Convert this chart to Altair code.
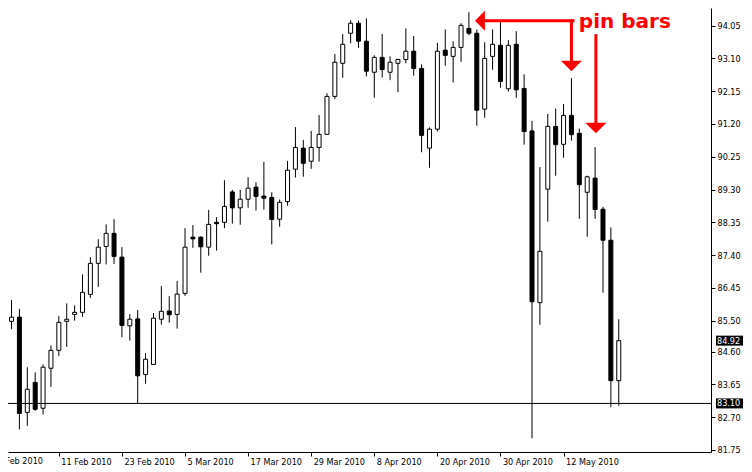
import altair as alt
import pandas as pd

# ---- candle data ----
opens = [85.43, 85.48, 85.60, 82.84, 83.71, 82.96, 84.12, 84.64, 85.48, 85.68,
         85.74, 86.26, 87.16, 87.65, 88.03, 87.34, 85.35, 85.55, 83.94, 84.23,
         85.54, 85.78, 85.68, 86.29, 87.92, 87.92, 87.63, 88.35, 88.35, 89.23,
         88.77, 89.02, 89.37, 89.11, 89.07, 88.44, 88.95, 89.89, 90.50, 90.12,
         90.52, 90.90, 92.00, 92.96, 93.83, 94.12, 93.60, 92.70, 93.13, 92.70,
         92.96, 93.07, 93.31, 92.81, 90.50, 91.05, 93.34, 93.16, 93.42, 93.97,
         93.83, 91.63, 93.16, 93.48, 92.22, 93.51, 92.23, 91.00, 86.02, 89.31,
         91.13, 90.61, 91.45, 90.93, 89.22, 89.63, 88.73, 87.83, 83.76]
highs = [85.95, 86.10, 85.84, 84.15, 84.00, 84.23, 84.78, 85.63, 86.00, 85.94,
         86.84, 87.34, 87.86, 88.29, 88.44, 87.63, 85.69, 85.81, 84.56, 85.72,
         86.50, 86.21, 86.65, 88.18, 88.27, 87.94, 88.71, 88.50, 89.57, 89.29,
         89.29, 89.66, 89.51, 90.10, 89.22, 89.01, 90.13, 91.11, 90.74, 91.00,
         91.46, 92.09, 93.23, 93.81, 94.21, 94.20, 94.26, 93.19, 93.81, 93.16,
         93.09, 93.97, 93.75, 92.93, 91.10, 93.55, 93.94, 93.60, 94.12, 94.44,
         93.94, 93.57, 93.94, 94.18, 93.63, 93.89, 92.64, 91.29, 89.95, 91.49,
         91.65, 91.78, 92.53, 91.07, 89.70, 90.53, 88.80, 88.20, 85.54]
lows = [85.23, 85.25, 82.35, 82.45, 82.89, 82.78, 83.58, 84.48, 84.74, 85.50,
        85.61, 86.16, 86.48, 87.13, 87.14, 85.02, 84.92, 83.10, 83.67, 84.23,
        85.38, 85.44, 85.27, 86.22, 87.61, 86.89, 87.38, 87.53, 88.18, 88.31,
        88.28, 88.77, 88.69, 88.72, 87.71, 88.22, 88.83, 89.65, 89.67, 89.90,
        90.11, 90.88, 91.92, 92.54, 93.54, 93.41, 92.58, 91.96, 92.55, 92.47,
        92.12, 92.96, 92.60, 90.38, 89.93, 90.98, 92.89, 92.40, 93.00, 93.77,
        91.15, 91.38, 92.77, 92.25, 92.14, 91.96, 90.60, 82.09, 85.38, 88.37,
        89.70, 90.22, 90.72, 88.45, 87.93, 88.45, 86.31, 82.99, 83.03]
closes = [85.55, 85.60, 82.81, 83.51, 82.93, 84.15, 84.64, 85.45, 85.54, 85.74,
          86.32, 87.16, 87.63, 88.03, 87.36, 85.36, 85.54, 83.90, 84.38, 85.57,
          85.77, 85.67, 86.27, 87.63, 87.87, 87.64, 88.29, 88.31, 88.81, 88.77,
          89.02, 89.34, 89.10, 89.05, 88.43, 88.93, 89.86, 90.52, 90.06, 90.52,
          90.90, 92.00, 92.99, 93.51, 94.12, 93.60, 92.73, 93.13, 92.78, 92.99,
          93.07, 93.31, 92.81, 90.87, 91.05, 93.31, 93.19, 93.42, 94.06, 93.83,
          91.60, 93.10, 93.51, 92.43, 93.48, 92.19, 90.98, 86.05, 87.51, 91.13,
          90.60, 91.45, 90.89, 89.44, 89.67, 88.72, 87.83, 83.76, 84.92]
dates = pd.bdate_range("2010-02-02", periods=len(opens))

# ---- axis text ----
tick_idx = [7, 15, 23, 31, 39, 47, 55, 63, 71]
tick_labels = ["11 Feb 2010", "23 Feb 2010", "5 Mar 2010", "17 Mar 2010",
               "29 Mar 2010", "8 Apr 2010", "20 Apr 2010", "30 Apr 2010",
               "12 May 2010"]
first_idx = [-1]
first_label = ["1 Feb 2010"]
price_ticks = [94.05, 93.10, 92.15, 91.20, 90.25, 89.30, 88.35, 87.40,
               86.45, 85.50, 84.60, 83.65, 82.70, 81.75]
level_line = [83.10]
marked_prices = [84.92, 83.10]

# ---- annotation (data units: bar index, price) ----
arrow_x = [61.0, 72.0, 75.1]
arrow_x2 = [72.2, 72.0, 75.1]
arrow_y = [94.19, 94.19, 93.76]
arrow_y2 = [94.19, 93.03, 91.23]
head_left_x, head_left_y = [60.4], [94.19]
head_down_x, head_down_y = [72.0, 75.1], [92.88, 91.08]
note_text, note_x, note_y = ["pin bars"], [72.94], [93.98]

FONT = "Tahoma, DejaVu Sans Condensed, Liberation Sans, sans-serif"

df = pd.DataFrame({
    "i": list(range(len(opens))),
    "date": dates.strftime("%Y-%m-%d"),
    "open": opens, "high": highs, "low": lows, "close": closes,
})

xscale = alt.Scale(domain=[1.1875, 89.0625], nice=False, zero=False)
yscale = alt.Scale(domain=[81.692, 94.562], nice=False, zero=False)

label_expr = ("[" + ",".join("'%s'" % s for s in tick_labels) + "][indexof(["
              + ",".join(str(v) for v in tick_idx) + "], datum.value)]")

xaxis = alt.Axis(values=tick_idx, labelExpr=label_expr, labelAlign="left",
                 labelOffset=2, labelPadding=1, labelBaseline="top",
                 tickSize=4, tickColor="black", domainColor="black",
                 labelColor="black", labelFont=FONT, labelFontSize=9,
                 grid=False, title=None, labelOverlap=False, labelFlush=False)
yaxis = alt.Axis(orient="right", values=price_ticks, format=".2f",
                 labelAlign="left", labelBaseline="middle", tickSize=4,
                 labelPadding=2, tickColor="black", domainColor="black",
                 labelColor="black", labelFont=FONT, labelFontSize=9,
                 grid=False, title=None, labelOverlap=False, labelFlush=False)


def X(field):
    return alt.X(field, scale=xscale, axis=xaxis)


def Y(field):
    return alt.Y(field, scale=yscale, axis=yaxis)


base = alt.Chart(df)

wicks = base.mark_rule(color="black", strokeWidth=1, clip=True).encode(
    x=X("i:Q"), y=Y("low:Q"), y2="high:Q",
)

bodies = base.mark_bar(size=4, stroke="black", strokeWidth=1, clip=True).encode(
    x=X("i:Q"), y=Y("open:Q"), y2="close:Q",
    fill=alt.condition("datum.close < datum.open", alt.value("black"), alt.value("white")),
)

hline = alt.Chart(pd.DataFrame({"p": level_line})).mark_rule(
    color="black", strokeWidth=1).encode(y=Y("p:Q"))

mk = pd.DataFrame({"p": marked_prices, "t": ["%.2f" % v for v in marked_prices]})
mark_boxes = alt.Chart(mk).mark_point(
    shape="M -1 -0.37 L 1 -0.37 L 1 0.37 L -1 0.37 Z", filled=True,
    fill="black", opacity=1, size=729, strokeWidth=0).encode(
    x=alt.value(721.5), y=Y("p:Q"))
mark_text = alt.Chart(mk).mark_text(
    align="left", baseline="middle", color="white", font=FONT, fontSize=9).encode(
    x=alt.value(709), y=Y("p:Q"), text="t:N")

first = alt.Chart(pd.DataFrame({"i": first_idx, "t": first_label})).mark_text(
    align="left", baseline="top", color="black", font=FONT, fontSize=9, dx=2).encode(
    x=X("i:Q"), y=alt.value(449), text="t:N")

arrows = alt.Chart(pd.DataFrame({"x": arrow_x, "x2": arrow_x2, "y": arrow_y, "y2": arrow_y2})).mark_rule(
    color="#ff0000", strokeWidth=3, strokeCap="square").encode(
    x=X("x:Q"), x2="x2:Q", y=Y("y:Q"), y2="y2:Q")

head_left = alt.Chart(pd.DataFrame({"x": head_left_x, "y": head_left_y})).mark_point(
    shape="M -0.5 0 L 0.5 -1 L 0.5 1 Z", filled=True, fill="#ff0000",
    opacity=1, size=400, strokeWidth=0).encode(x=X("x:Q"), y=Y("y:Q"))

head_down = alt.Chart(pd.DataFrame({"x": head_down_x, "y": head_down_y})).mark_point(
    shape="M -1 -0.5 L 1 -0.5 L 0 0.5 Z", filled=True, fill="#ff0000",
    opacity=1, size=441, strokeWidth=0).encode(x=X("x:Q"), y=Y("y:Q"))

note = alt.Chart(pd.DataFrame({"x": note_x, "y": note_y, "t": note_text})).mark_text(
    align="left", baseline="alphabetic", color="#ff0000", font="DejaVu Sans",
    fontWeight="bold", fontSize=20).encode(x=X("x:Q"), y=Y("y:Q"), text="t:N")

chart = alt.layer(
    wicks, bodies, hline, mark_boxes, mark_text, first, arrows, head_left, head_down, note
).properties(
    width=703, height=444,
    padding={"left": 0, "top": 0, "right": 33, "bottom": 16},
    autosize=alt.AutoSizeParams(type="none"),
    background="white",
).configure_view(stroke="transparent")

chart.save("out.html", embed_options={"renderer": "svg", "actions": False})
